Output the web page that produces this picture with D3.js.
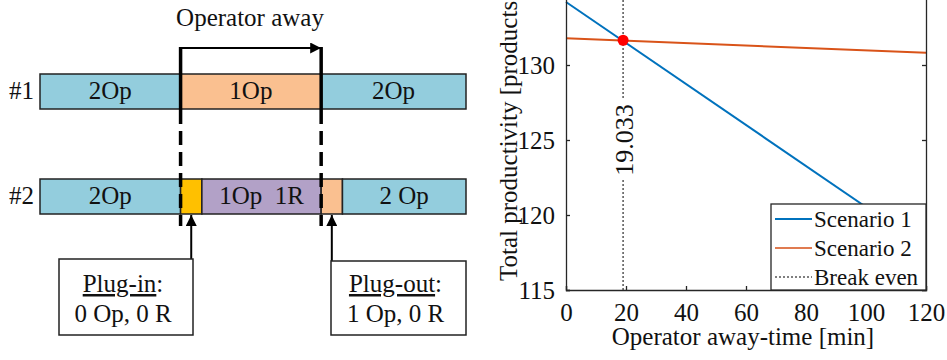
<!DOCTYPE html>
<html>
<head>
<meta charset="utf-8">
<script src="https://cdn.jsdelivr.net/npm/d3@7"></script>
<style>
  body { margin: 0; background: #fff; }
  svg text { font-family: "Liberation Serif", "Times New Roman", serif; fill: #111; }
</style>
</head>
<body>
<svg id="chart" width="947" height="360"></svg>
<script>
// ---- schedule diagram data (time units along the bar) ----
var row1Segments = [
  {from: 0,  to: 33,  label: "2Op", fill: "#93cddd"},
  {from: 33, to: 66,  label: "1Op", fill: "#fac090"},
  {from: 66, to: 100, label: "2Op", fill: "#93cddd"}
];
var row2Segments = [
  {from: 0,  to: 33,  label: "2Op",     fill: "#93cddd"},
  {from: 33, to: 38,  label: "",        fill: "#ffc000"},
  {from: 38, to: 66,  label: "1Op  1R", fill: "#b2a1c7"},
  {from: 66, to: 71,  label: "",        fill: "#fac090"},
  {from: 71, to: 100, label: "2 Op",    fill: "#93cddd"}
];
var awayStart = 33, awayEnd = 66;
var plugIn = 35.5, plugOut = 68.5;

// ---- productivity chart data ----
var awayTime = [0, 120];
var scenario1 = [134.2, 117.8];
var scenario2 = [131.78, 130.82];
var breakEven = {x: 19.033, y: 131.65};
var xTicks = [0, 20, 40, 60, 80, 100, 120];
var yTicks = [115, 120, 125, 130];
var legendNames = ["Scenario 1", "Scenario 2", "Break even"];

var svg = d3.select("#chart");
var blue = "#0072bd", orange = "#d95319";

// ================= left: schedule diagram =================
var t = d3.scaleLinear().domain([0, 100]).range([40, 466]);
var rows = [{name: "#1", segs: row1Segments, y: 74}, {name: "#2", segs: row2Segments, y: 179}];
var barH = 35;

svg.append("text").attr("x", 250).attr("y", 26).attr("text-anchor", "middle")
  .attr("font-size", 25).text("Operator away");

rows.forEach(function(r) {
  var g = svg.append("g");
  g.selectAll("rect").data(r.segs).enter().append("rect")
    .attr("x", function(d) { return t(d.from); })
    .attr("y", r.y)
    .attr("width", function(d) { return t(d.to) - t(d.from); })
    .attr("height", barH)
    .attr("fill", function(d) { return d.fill; })
    .attr("stroke", "#222").attr("stroke-width", 1.5);
  g.selectAll("text.seg").data(r.segs).enter().append("text")
    .attr("class", "seg")
    .attr("x", function(d) { return (t(d.from) + t(d.to)) / 2; })
    .attr("y", r.y + 25)
    .attr("text-anchor", "middle")
    .attr("font-size", 25)
    .style("white-space", "pre")
    .text(function(d) { return d.label; });
  svg.append("text").attr("x", 34).attr("y", r.y + 25).attr("text-anchor", "end")
    .attr("font-size", 25).text(r.name);
});

// bracket with arrow
svg.append("defs").append("marker")
  .attr("id", "ah").attr("viewBox", "0 0 10 10").attr("refX", 10).attr("refY", 5)
  .attr("markerWidth", 11).attr("markerHeight", 11).attr("markerUnits", "userSpaceOnUse")
  .attr("orient", "auto")
  .append("path").attr("d", "M0,0L10,5L0,10Z").attr("fill", "#000");

svg.append("line").attr("x1", t(awayStart)).attr("x2", t(awayEnd)).attr("y1", 48).attr("y2", 48)
  .attr("stroke", "#000").attr("stroke-width", 2.2).attr("marker-end", "url(#ah)");
[awayStart, awayEnd].forEach(function(v) {
  svg.append("line").attr("x1", t(v)).attr("x2", t(v)).attr("y1", 47).attr("y2", 110)
    .attr("stroke", "#000").attr("stroke-width", 3.5);
  svg.append("line").attr("x1", t(v)).attr("x2", t(v)).attr("y1", 110).attr("y2", 226)
    .attr("stroke", "#000").attr("stroke-width", 3.5).attr("stroke-dasharray", "14,7");
});

// plug-in / plug-out callouts
var boxes = [
  {at: plugIn,  x0: 59,  x1: 193, y0: 259, title: "Plug-in",  sub: "0 Op, 0 R"},
  {at: plugOut, x0: 331, x1: 466, y0: 261, title: "Plug-out", sub: "1 Op, 0 R"}
];
boxes.forEach(function(b) {
  svg.append("line").attr("x1", t(b.at)).attr("x2", t(b.at)).attr("y1", b.y0).attr("y2", 215)
    .attr("stroke", "#000").attr("stroke-width", 2).attr("marker-end", "url(#ah)");
  svg.append("rect").attr("x", b.x0).attr("y", b.y0).attr("width", b.x1 - b.x0).attr("height", 335 - b.y0)
    .attr("fill", "#fff").attr("stroke", "#222").attr("stroke-width", 1.5);
  var cx = (b.x0 + b.x1) / 2 - 3;
  var tt = svg.append("text").attr("x", cx).attr("y", 292).attr("text-anchor", "middle").attr("font-size", 25);
  tt.append("tspan").style("text-decoration", "underline").text(b.title);
  tt.append("tspan").text(":");
  svg.append("text").attr("x", cx).attr("y", 322).attr("text-anchor", "middle").attr("font-size", 25).text(b.sub);
});

// ================= right: productivity chart =================
var x = d3.scaleLinear().domain([0, 120]).range([566, 926]);
var y = d3.scaleLinear().domain([115, 135]).range([290, -10]);
var axisCol = "#262626";

var plot = svg.append("g");
var line = d3.line().x(function(d) { return x(d[0]); }).y(function(d) { return y(d[1]); });

plot.append("line").attr("x1", x(breakEven.x)).attr("x2", x(breakEven.x))
  .attr("y1", y(115)).attr("y2", y(135))
  .attr("stroke", "#555").attr("stroke-width", 1.5).attr("stroke-dasharray", "2,2");

var lbl = plot.append("g").attr("transform", "translate(" + (x(breakEven.x) + 10) + ",140) rotate(-90)");
lbl.append("rect").attr("x", -40).attr("y", -20).attr("width", 80).attr("height", 24).attr("fill", "#fff");
lbl.append("text").attr("text-anchor", "middle").attr("font-size", 26).text(breakEven.x.toFixed(3));

plot.append("path").datum(awayTime.map(function(v, i) { return [v, scenario2[i]]; }))
  .attr("d", line).attr("fill", "none").attr("stroke", orange).attr("stroke-width", 2);
plot.append("path").datum(awayTime.map(function(v, i) { return [v, scenario1[i]]; }))
  .attr("d", line).attr("fill", "none").attr("stroke", blue).attr("stroke-width", 2);
plot.append("circle").attr("cx", x(breakEven.x)).attr("cy", y(breakEven.y)).attr("r", 5.5).attr("fill", "#f00");

// axes (MATLAB style box, inward ticks)
var gx = plot.append("g").attr("transform", "translate(0," + y(115) + ")")
  .call(d3.axisBottom(x).tickValues(xTicks).tickSize(-4).tickPadding(15).tickFormat(d3.format("d")));
var gxt = plot.append("g").attr("transform", "translate(0," + y(135) + ")")
  .call(d3.axisTop(x).tickValues(xTicks).tickSize(-4).tickFormat(""));
var gy = plot.append("g").attr("transform", "translate(" + x(0) + ",0)")
  .call(d3.axisLeft(y).tickValues(yTicks).tickSize(-4).tickPadding(11).tickFormat(d3.format("d")));
var gyr = plot.append("g").attr("transform", "translate(" + x(120) + ",0)")
  .call(d3.axisRight(y).tickValues(yTicks).tickSize(-4).tickFormat(""));
[gx, gxt, gy, gyr].forEach(function(g) {
  g.select(".domain").attr("stroke", axisCol).attr("stroke-width", 1.3);
  g.selectAll(".tick line").attr("stroke", axisCol).attr("stroke-width", 1.3);
  g.selectAll(".tick text").attr("font-size", 25).attr("font-family", "Liberation Serif").attr("fill", "#111");
});
gx.selectAll(".tick text").attr("dy", "0.62em");
gy.selectAll(".tick text").attr("dy", "0.34em");

svg.append("text").attr("x", 743).attr("y", 345).attr("text-anchor", "middle")
  .attr("font-size", 25).text("Operator away-time [min]");
svg.append("text").attr("transform", "translate(517,281) rotate(-90)")
  .attr("font-size", 25).text("Total productivity [products]");

// legend
var lg = svg.append("g").attr("transform", "translate(771,204)");
lg.append("rect").attr("width", x(120) - 771).attr("height", y(115) - 204)
  .attr("fill", "#fff").attr("stroke", axisCol).attr("stroke-width", 1.3);
var legendStyles = [
  {stroke: blue, dash: null},
  {stroke: "#e07b50", dash: null},
  {stroke: "#555", dash: "2,2"}
];
var items = lg.selectAll("g.item").data(legendNames).enter().append("g")
  .attr("class", "item")
  .attr("transform", function(d, i) { return "translate(0," + (15 + i * 29) + ")"; });
items.append("line").attr("x1", 4).attr("x2", 41)
  .attr("stroke", function(d, i) { return legendStyles[i].stroke; })
  .attr("stroke-width", function(d, i) { return i == 2 ? 1.5 : 2; })
  .attr("stroke-dasharray", function(d, i) { return legendStyles[i].dash; });
items.append("text").attr("x", 43).attr("y", 8).attr("font-size", 23).text(function(d) { return d; });
</script>
</body>
</html>
